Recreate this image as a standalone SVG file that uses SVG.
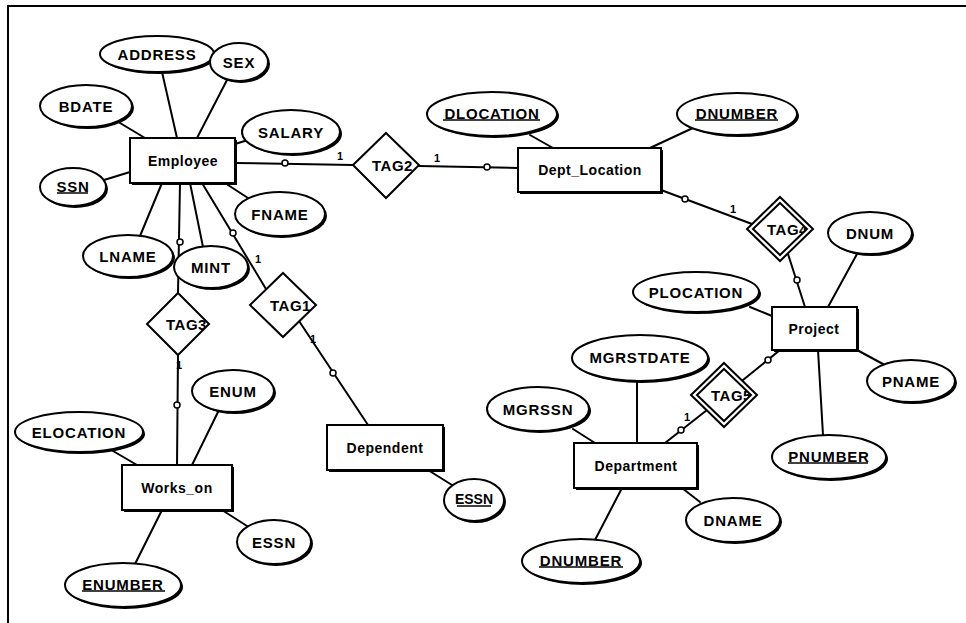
<svg xmlns="http://www.w3.org/2000/svg" width="966" height="623" viewBox="0 0 966 623">
  <style>
    .frame{stroke:#000;stroke-width:2;fill:none}
    .ln{stroke:#000;stroke-width:2;fill:none;stroke-linecap:round}
    .dot{fill:#fff;stroke:#000;stroke-width:1.5}
    .one{font-family:"Liberation Sans",Arial,sans-serif;font-weight:bold;font-size:11px;fill:#000}
    .sh{fill:#000}
    .box{fill:#fff;stroke:#000;stroke-width:2}
    .dia{fill:#fff;stroke:#000;stroke-width:2}
    .dia2{fill:none;stroke:#000;stroke-width:2}
    .ent{font-family:"Liberation Sans",Arial,sans-serif;font-weight:bold;font-size:14px;letter-spacing:0.5px;text-anchor:middle;dominant-baseline:central;fill:#000}
    .att{font-family:"Liberation Sans",Arial,sans-serif;font-weight:bold;font-size:15px;letter-spacing:0.8px;text-anchor:middle;dominant-baseline:central;fill:#000}
    .small{font-size:14px;letter-spacing:0}
    .tag{font-family:"Liberation Sans",Arial,sans-serif;font-weight:bold;font-size:15px;letter-spacing:0.5px;dominant-baseline:central;fill:#000}
    .key{stroke:#000;stroke-width:1.5}
  </style>
  <defs>
    <clipPath id="clipTag2"><polygon points="386,133 419,165 386,198 353,165"/></clipPath>
    <clipPath id="clipTag1"><polygon points="283,273 316,305 283,337 250,305"/></clipPath>
    <clipPath id="clipTag3"><polygon points="178,293 209,324 178,355 147,324"/></clipPath>
    <clipPath id="clipTag4"><polygon points="780,203 807,229 780,255 753,229"/></clipPath>
    <clipPath id="clipTag5"><polygon points="724,369 751,395 724,421 697,395"/></clipPath>
  </defs>

  <rect x="0" y="0" width="966" height="623" fill="#fff"/>
  <!-- outer frame -->
  <path class="frame" d="M8,623 V6 H966"/>

  <!-- connectors -->
  <g id="connectors">
    <!-- Employee attributes -->
    <line class="ln" x1="162" y1="72" x2="177" y2="138"/>
    <line class="ln" x1="227" y1="80" x2="197" y2="138"/>
    <line class="ln" x1="120" y1="123" x2="145" y2="138"/>
    <line class="ln" x1="104" y1="180" x2="130" y2="172"/>
    <line class="ln" x1="235" y1="144" x2="248" y2="140"/>
    <line class="ln" x1="228" y1="185" x2="248" y2="198"/>
    <line class="ln" x1="162" y1="183" x2="140" y2="236"/>
    <line class="ln" x1="190" y1="183" x2="203" y2="247"/>
    <!-- Employee - TAG3 - Works_on -->
    <line class="ln" x1="180" y1="183" x2="178" y2="293"/>
    <circle class="dot" cx="180" cy="242" r="3"/>
    <line class="ln" x1="178" y1="355" x2="177" y2="465"/>
    <circle class="dot" cx="177" cy="405" r="3"/>
    <text class="one" x="176" y="369">1</text>
    <!-- Employee - TAG1 - Dependent -->
    <line class="ln" x1="202" y1="183" x2="266" y2="289"/>
    <circle class="dot" cx="233" cy="233" r="3"/>
    <text class="one" x="255" y="263">1</text>
    <line class="ln" x1="299" y1="321" x2="368" y2="425"/>
    <circle class="dot" cx="333" cy="373" r="3"/>
    <text class="one" x="310" y="343">1</text>
    <!-- Employee - TAG2 - Dept_Location -->
    <line class="ln" x1="235" y1="163" x2="353" y2="165"/>
    <circle class="dot" cx="285" cy="163" r="3"/>
    <text class="one" x="337" y="160">1</text>
    <line class="ln" x1="419" y1="166" x2="518" y2="168"/>
    <circle class="dot" cx="487" cy="167" r="3"/>
    <text class="one" x="434" y="162">1</text>
    <!-- Dept_Location attributes -->
    <line class="ln" x1="530" y1="135" x2="553" y2="148"/>
    <line class="ln" x1="695" y1="127" x2="650" y2="148"/>
    <!-- Dept_Location - TAG4 - Project -->
    <line class="ln" x1="661" y1="190" x2="752" y2="224"/>
    <circle class="dot" cx="685" cy="199" r="3"/>
    <text class="one" x="730" y="213">1</text>
    <line class="ln" x1="788" y1="254" x2="805" y2="307"/>
    <circle class="dot" cx="797" cy="280" r="3"/>
    <!-- Project attributes -->
    <line class="ln" x1="857" y1="254" x2="828" y2="307"/>
    <line class="ln" x1="750" y1="307" x2="772" y2="316"/>
    <line class="ln" x1="857" y1="350" x2="883" y2="364"/>
    <line class="ln" x1="818" y1="350" x2="823" y2="435"/>
    <!-- Project - TAG5 - Department -->
    <line class="ln" x1="780" y1="350" x2="743" y2="380"/>
    <circle class="dot" cx="768" cy="360" r="3"/>
    <line class="ln" x1="707" y1="410" x2="665" y2="443"/>
    <circle class="dot" cx="681" cy="430" r="3"/>
    <text class="one" x="684" y="421">1</text>
    <!-- Department attributes -->
    <line class="ln" x1="637" y1="381" x2="637" y2="443"/>
    <line class="ln" x1="573" y1="429" x2="595" y2="443"/>
    <line class="ln" x1="682" y1="488" x2="700" y2="502"/>
    <line class="ln" x1="622" y1="488" x2="595" y2="540"/>
    <!-- Dependent attribute -->
    <line class="ln" x1="428" y1="470" x2="452" y2="485"/>
    <!-- Works_on attributes -->
    <line class="ln" x1="218" y1="412" x2="192" y2="465"/>
    <line class="ln" x1="113" y1="451" x2="137" y2="465"/>
    <line class="ln" x1="222" y1="510" x2="247" y2="526"/>
    <line class="ln" x1="162" y1="510" x2="135" y2="564"/>
  </g>

  <!-- entities -->
  <g id="employee">
    <rect class="sh" x="132" y="140" width="105" height="45"/>
    <rect class="box" x="130" y="138" width="105" height="45"/>
    <text class="ent" x="183" y="161">Employee</text>
  </g>
  <g id="dept_location">
    <rect class="sh" x="520" y="150" width="143" height="44"/>
    <rect class="box" x="518" y="148" width="143" height="44"/>
    <text class="ent" x="590" y="170">Dept_Location</text>
  </g>
  <g id="project">
    <rect class="sh" x="774" y="309" width="85" height="43"/>
    <rect class="box" x="772" y="307" width="85" height="43"/>
    <text class="ent" x="814" y="329">Project</text>
  </g>
  <g id="department">
    <rect class="sh" x="576" y="445" width="123" height="45"/>
    <rect class="box" x="574" y="443" width="123" height="45"/>
    <text class="ent" x="636" y="466">Department</text>
  </g>
  <g id="dependent">
    <rect class="sh" x="329" y="427" width="116" height="45"/>
    <rect class="box" x="327" y="425" width="116" height="45"/>
    <text class="ent" x="385" y="448">Dependent</text>
  </g>
  <g id="works_on">
    <rect class="sh" x="124" y="467" width="110" height="45"/>
    <rect class="box" x="122" y="465" width="110" height="45"/>
    <text class="ent" x="177" y="488">Works_on</text>
  </g>

  <!-- relationships -->
  <g id="tag2">
    <polygon class="dia" points="386,133 419,165 386,198 353,165"/>
    <text class="tag" x="372" y="165" clip-path="url(#clipTag2)">TAG2</text>
  </g>
  <g id="tag1">
    <polygon class="dia" points="283,273 316,305 283,337 250,305"/>
    <text class="tag" x="270" y="305" clip-path="url(#clipTag1)">TAG1</text>
  </g>
  <g id="tag3">
    <polygon class="dia" points="178,293 209,324 178,355 147,324"/>
    <text class="tag" x="166" y="324" clip-path="url(#clipTag3)">TAG3</text>
  </g>
  <g id="tag4">
    <polygon class="dia" points="780,197 813,229 780,261 747,229"/>
    <polygon class="dia2" points="780,203 807,229 780,255 753,229"/>
    <text class="tag" x="767" y="229" clip-path="url(#clipTag4)">TAG4</text>
  </g>
  <g id="tag5">
    <polygon class="dia" points="724,363 757,395 724,427 691,395"/>
    <polygon class="dia2" points="724,369 751,395 724,421 697,395"/>
    <text class="tag" x="711" y="395" clip-path="url(#clipTag5)">TAG5</text>
  </g>

  <!-- attributes -->
  <g id="attr-address">
    <ellipse class="sh" cx="159" cy="56" rx="57" ry="18"/>
    <ellipse class="box" cx="157" cy="54" rx="57" ry="18"/>
    <text class="att" x="157" y="54">ADDRESS</text>
  </g>
  <g id="attr-sex">
    <ellipse class="sh" cx="241" cy="64" rx="29" ry="19"/>
    <ellipse class="box" cx="239" cy="62" rx="29" ry="19"/>
    <text class="att" x="239" y="62">SEX</text>
  </g>
  <g id="attr-bdate">
    <ellipse class="sh" cx="88" cy="108" rx="46" ry="21"/>
    <ellipse class="box" cx="86" cy="106" rx="46" ry="21"/>
    <text class="att" x="86" y="106">BDATE</text>
  </g>
  <g id="attr-salary">
    <ellipse class="sh" cx="293" cy="134" rx="49" ry="22"/>
    <ellipse class="box" cx="291" cy="132" rx="49" ry="22"/>
    <text class="att" x="291" y="132">SALARY</text>
  </g>
  <g id="attr-ssn">
    <ellipse class="sh" cx="75" cy="189" rx="33" ry="19"/>
    <ellipse class="box" cx="73" cy="187" rx="33" ry="19"/>
    <text class="att" x="73" y="186">SSN</text>
    <line class="key" x1="57" y1="193" x2="88" y2="193"/>
  </g>
  <g id="attr-fname">
    <ellipse class="sh" cx="282" cy="216" rx="45" ry="22"/>
    <ellipse class="box" cx="280" cy="214" rx="45" ry="22"/>
    <text class="att" x="280" y="214">FNAME</text>
  </g>
  <g id="attr-lname">
    <ellipse class="sh" cx="130" cy="258" rx="45" ry="21"/>
    <ellipse class="box" cx="128" cy="256" rx="45" ry="21"/>
    <text class="att" x="128" y="256">LNAME</text>
  </g>
  <g id="attr-mint">
    <ellipse class="sh" cx="213" cy="269" rx="37" ry="21"/>
    <ellipse class="box" cx="211" cy="267" rx="37" ry="21"/>
    <text class="att" x="211" y="267">MINT</text>
  </g>
  <g id="attr-dlocation">
    <ellipse class="sh" cx="494" cy="116" rx="65" ry="22"/>
    <ellipse class="box" cx="492" cy="114" rx="65" ry="22"/>
    <text class="att" x="492" y="113">DLOCATION</text>
    <line class="key" x1="443" y1="120" x2="540" y2="120"/>
  </g>
  <g id="attr-dnumber-loc">
    <ellipse class="sh" cx="739" cy="116" rx="60" ry="21"/>
    <ellipse class="box" cx="737" cy="114" rx="60" ry="21"/>
    <text class="att" x="737" y="113">DNUMBER</text>
    <line class="key" x1="695" y1="120" x2="778" y2="120"/>
  </g>
  <g id="attr-dnum">
    <ellipse class="sh" cx="872" cy="235" rx="42" ry="21"/>
    <ellipse class="box" cx="870" cy="233" rx="42" ry="21"/>
    <text class="att" x="870" y="233">DNUM</text>
  </g>
  <g id="attr-plocation">
    <ellipse class="sh" cx="698" cy="294" rx="63" ry="20"/>
    <ellipse class="box" cx="696" cy="292" rx="63" ry="20"/>
    <text class="att" x="696" y="292">PLOCATION</text>
  </g>
  <g id="attr-pname">
    <ellipse class="sh" cx="913" cy="383" rx="44" ry="21"/>
    <ellipse class="box" cx="911" cy="381" rx="44" ry="21"/>
    <text class="att" x="911" y="381">PNAME</text>
  </g>
  <g id="attr-pnumber">
    <ellipse class="sh" cx="831" cy="459" rx="57" ry="22"/>
    <ellipse class="box" cx="829" cy="457" rx="57" ry="22"/>
    <text class="att" x="829" y="456">PNUMBER</text>
    <line class="key" x1="788" y1="463" x2="868" y2="463"/>
  </g>
  <g id="attr-mgrstdate">
    <ellipse class="sh" cx="642" cy="360" rx="68" ry="23"/>
    <ellipse class="box" cx="640" cy="358" rx="68" ry="23"/>
    <text class="att" x="640" y="357">MGRSTDATE</text>
  </g>
  <g id="attr-mgrssn">
    <ellipse class="sh" cx="540" cy="411" rx="51" ry="22"/>
    <ellipse class="box" cx="538" cy="409" rx="51" ry="22"/>
    <text class="att" x="538" y="409">MGRSSN</text>
  </g>
  <g id="attr-dname">
    <ellipse class="sh" cx="735" cy="522" rx="47" ry="22"/>
    <ellipse class="box" cx="733" cy="520" rx="47" ry="22"/>
    <text class="att" x="733" y="520">DNAME</text>
  </g>
  <g id="attr-dnumber-dept">
    <ellipse class="sh" cx="583" cy="563" rx="59" ry="22"/>
    <ellipse class="box" cx="581" cy="561" rx="59" ry="22"/>
    <text class="att" x="581" y="560">DNUMBER</text>
    <line class="key" x1="539" y1="567" x2="623" y2="567"/>
  </g>
  <g id="attr-essn-dep">
    <ellipse class="sh" cx="476" cy="502" rx="30" ry="21"/>
    <ellipse class="box" cx="474" cy="500" rx="30" ry="21"/>
    <text class="att small" x="474" y="499">ESSN</text>
    <line class="key" x1="457" y1="506" x2="491" y2="506"/>
  </g>
  <g id="attr-enum">
    <ellipse class="sh" cx="235" cy="393" rx="41" ry="21"/>
    <ellipse class="box" cx="233" cy="391" rx="41" ry="21"/>
    <text class="att" x="233" y="391">ENUM</text>
  </g>
  <g id="attr-elocation">
    <ellipse class="sh" cx="81" cy="434" rx="64" ry="20"/>
    <ellipse class="box" cx="79" cy="432" rx="64" ry="20"/>
    <text class="att" x="79" y="432">ELOCATION</text>
  </g>
  <g id="attr-essn-works">
    <ellipse class="sh" cx="276" cy="544" rx="37" ry="22"/>
    <ellipse class="box" cx="274" cy="542" rx="37" ry="22"/>
    <text class="att" x="274" y="542">ESSN</text>
  </g>
  <g id="attr-enumber">
    <ellipse class="sh" cx="125" cy="587" rx="58" ry="22"/>
    <ellipse class="box" cx="123" cy="585" rx="58" ry="22"/>
    <text class="att" x="123" y="584">ENUMBER</text>
    <line class="key" x1="82" y1="591" x2="165" y2="591"/>
  </g>
</svg>
